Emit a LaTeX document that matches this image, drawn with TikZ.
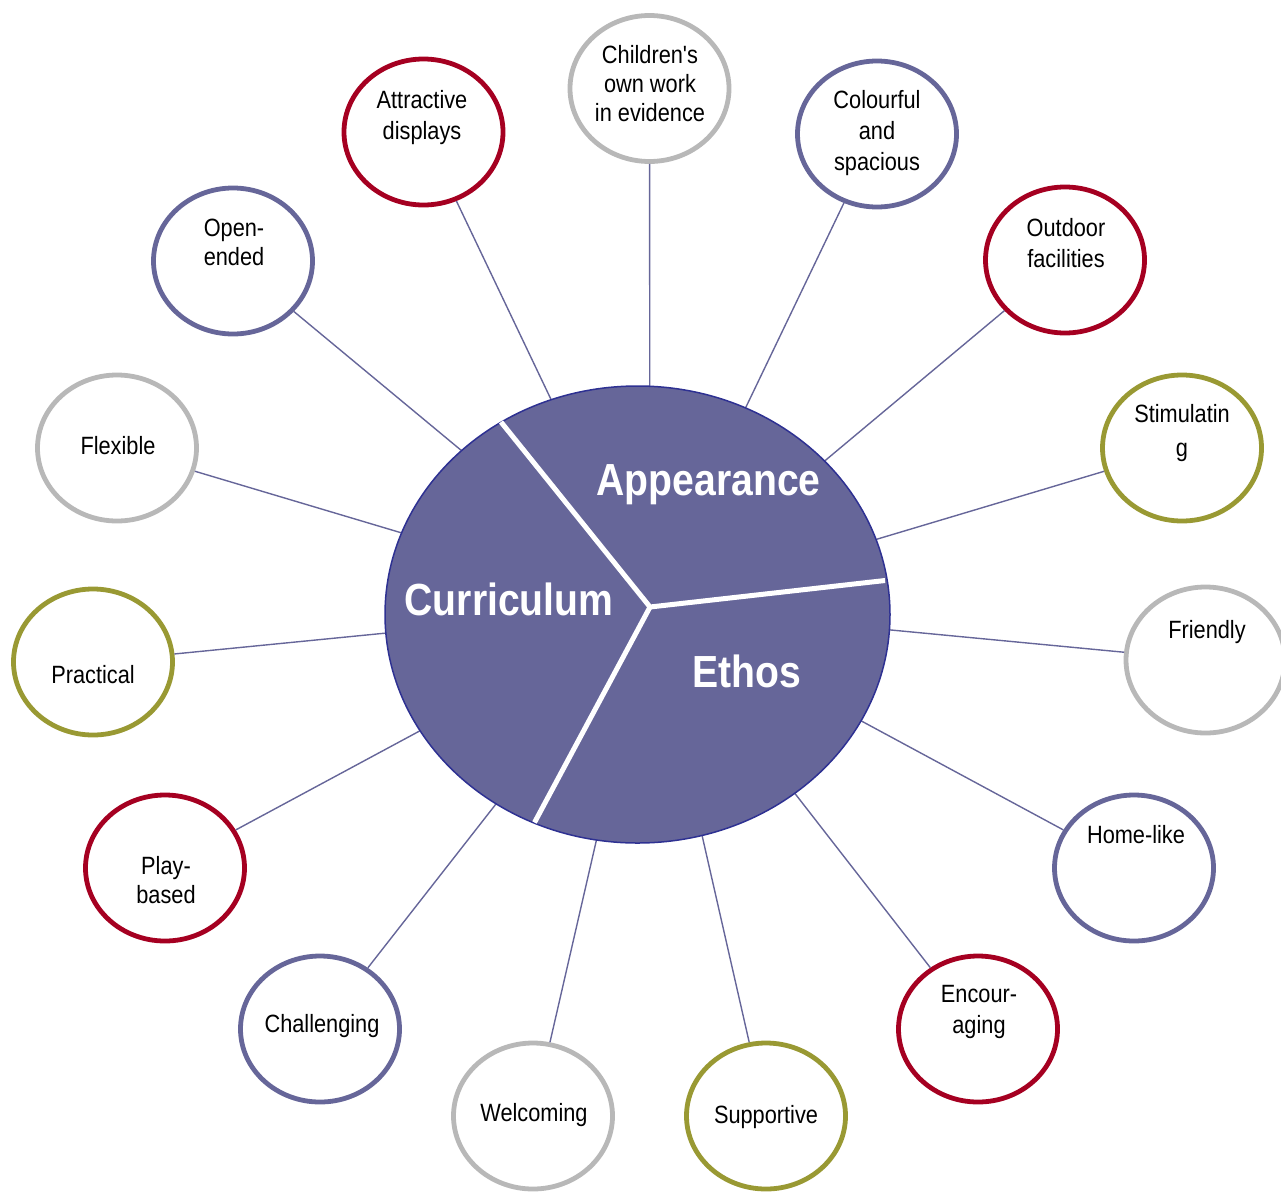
\documentclass[tikz,border=0pt]{standalone}
\usepackage{fontspec}
\setmainfont{Liberation Sans}
\newfontfamily\ringfont[FakeStretch=0.87]{Liberation Sans}
\newfontfamily\corefont[FakeStretch=0.87]{Liberation Sans}
\usetikzlibrary{shapes.geometric}

\definecolor{ringgrey}{HTML}{B8B8B8}
\definecolor{ringred}{HTML}{A50021}
\definecolor{ringblue}{HTML}{666699}
\definecolor{ringolive}{HTML}{999933}
\definecolor{corefill}{HTML}{666699}
\definecolor{coreedge}{HTML}{2E3192}

\tikzset{
  ring/.style={ellipse, draw=#1, line width=4.8pt, fill=white,
    minimum width=159pt, minimum height=146pt, inner sep=0pt},
  ringtext/.style={font=\ringfont\fontsize{25}{31}\selectfont,
    align=center, inner sep=0pt, text=black},
  tightlines/.style={font=\ringfont\fontsize{25}{29}\selectfont},
  spoke/.style={draw=ringblue, line width=1.4pt},
  corelabel/.style={font=\corefont\bfseries\fontsize{45}{50}\selectfont,
    text=white, inner sep=0pt, anchor=base},
}

\begin{document}
\begin{tikzpicture}[x=1pt, y=-1pt]
\useasboundingbox (0,0) rectangle (1281,1191);

% outer ring of qualities
\node[ring=ringgrey]  (children)    at (649.5,88.5) {};
\node[ring=ringred]   (attractive)  at (423.5,132)  {};
\node[ring=ringblue]  (colourful)   at (877,134)    {};
\node[ring=ringblue]  (openended)   at (233,261)    {};
\node[ring=ringred]   (outdoor)     at (1065,260)   {};
\node[ring=ringgrey]  (flexible)    at (117,448)    {};
\node[ring=ringolive] (stimulating) at (1182,448)   {};
\node[ring=ringolive] (practical)   at (93,662)     {};
\node[ring=ringgrey]  (friendly)    at (1205.5,660) {};
\node[ring=ringred]   (playbased)   at (165,868)    {};
\node[ring=ringblue]  (homelike)    at (1134,868)   {};
\node[ring=ringblue]  (challenging) at (320,1029)   {};
\node[ring=ringred]   (encouraging) at (978,1029)   {};
\node[ring=ringgrey]  (welcoming)   at (533,1116)   {};
\node[ring=ringolive] (supportive)  at (766,1116)   {};

% labels inside the rings
\node[ringtext, tightlines] (tchildren) at (650,84) {Children's\\own work\\in evidence};
\node[ringtext] (tattractive)  at (422,118)   {Attractive\\displays};
\node[ringtext] (tcolourful)   at (877,133)   {Colourful\\and\\spacious};
\node[ringtext, tightlines] (topenended) at (234,242.5) {Open-\\ended};
\node[ringtext] (toutdoor)     at (1066,243.5) {Outdoor\\facilities};
\node[ringtext] (tflexible)    at (118,446)   {Flexible};
\node[ringtext, font=\ringfont\fontsize{25}{34}\selectfont] (tstimulating) at (1182,433) {Stimulatin\\g};
\node[ringtext] (tpractical)   at (93,675)    {Practical};
\node[ringtext] (tfriendly)    at (1207,632)  {Friendly};
\node[ringtext, tightlines] (tplaybased) at (166,880.5) {Play-\\based};
\node[ringtext] (thomelike)    at (1136,835)  {Home-like};
\node[ringtext] (tchallenging) at (322,1026)  {Challenging};
\node[ringtext] (tencouraging) at (979,1012)  {Encour-\\aging};
\node[ringtext] (twelcoming)   at (534,1115)  {Welcoming};
\node[ringtext] (tsupportive)  at (766,1117)  {Supportive};

% spokes towards the hub of the central disc
\coordinate (hub) at (650,607);
\foreach \n in {children,attractive,colourful,openended,outdoor,flexible,
  stimulating,practical,friendly,playbased,homelike,challenging,
  encouraging,welcoming,supportive}
  \draw[spoke] (\n) -- (hub);

% central disc split into three sectors
\node[ellipse, fill=corefill, draw=coreedge, line width=1.5pt,
  minimum width=505pt, minimum height=457pt, inner sep=0pt] (core) at (637.5,614.5) {};
\coordinate (cutA) at (501,422);
\coordinate (cutB) at (885,580.5);
\coordinate (cutC) at (534.5,822.5);
\draw[white, line width=5pt, line join=round] (cutA) -- (hub) -- (cutB);
\draw[white, line width=5pt] (hub) -- (cutC);

\node[corelabel] (lappearance) at (708.5,495) {Appearance};
\node[corelabel] (lcurriculum) at (509,615)   {Curriculum};
\node[corelabel] (lethos)      at (746.5,687) {Ethos};
\end{tikzpicture}
\end{document}
